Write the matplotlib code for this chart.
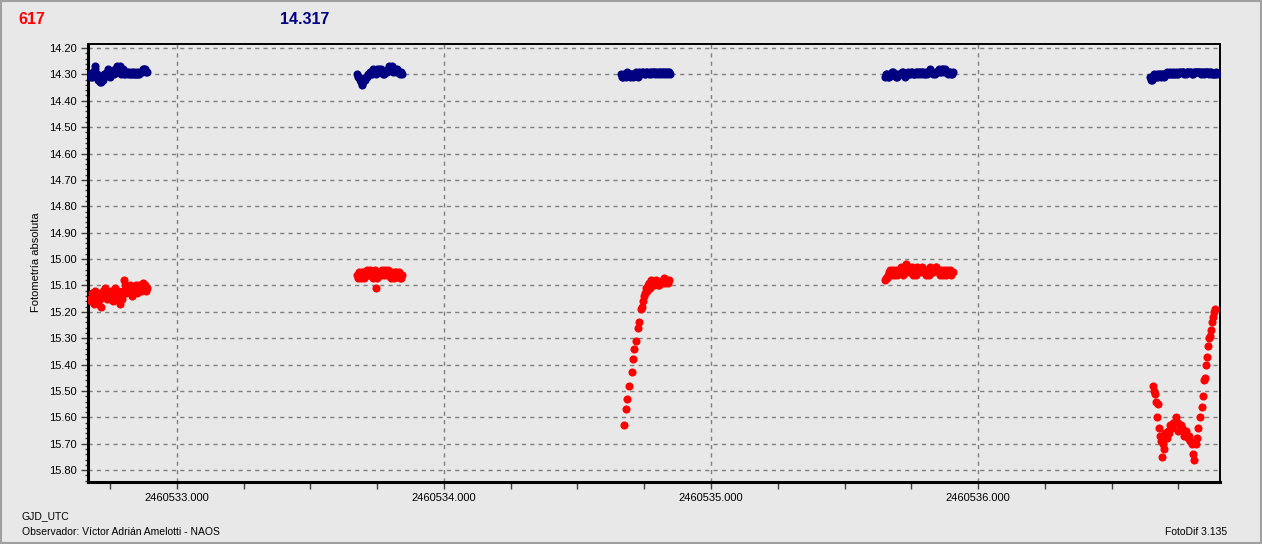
import numpy as np
import matplotlib
matplotlib.use('Agg')
from matplotlib import pyplot as plt
from matplotlib.ticker import MultipleLocator, FuncFormatter
from matplotlib.patches import Rectangle

# --- datos (GJD = T0 + t) ---
T0 = 2460532.0

# noche 1
t1 = [0.674, 0.681, 0.688, 0.695, 0.703, 0.710, 0.717, 0.724, 0.731, 0.738,
      0.745, 0.752, 0.760, 0.767, 0.774, 0.781, 0.788, 0.795, 0.802, 0.809,
      0.817, 0.824, 0.831, 0.838, 0.845, 0.852, 0.859, 0.866, 0.874, 0.881, 0.888]
b1 = [14.30, 14.31, 14.30, 14.27, 14.31, 14.32, 14.33, 14.32, 14.30, 14.29,
      14.30, 14.29, 14.29, 14.28, 14.29, 14.28, 14.27, 14.29, 14.30, 14.29,
      14.30, 14.30, 14.29, 14.30, 14.30, 14.29, 14.30, 14.29, 14.28, 14.28, 14.29]
r1 = [15.15, 15.13, 15.17, 15.12, 15.16, 15.14, 15.18, 15.12, 15.11, 15.15,
      15.13, 15.12, 15.16, 15.11, 15.14, 15.12, 15.17, 15.15, 15.08, 15.13,
      15.12, 15.10, 15.14, 15.12, 15.11, 15.13, 15.10, 15.12, 15.09, 15.10, 15.11]
t1b = [0.677, 0.684, 0.692, 0.699, 0.706, 0.713, 0.720, 0.727, 0.734, 0.741,
       0.749, 0.756, 0.763, 0.770, 0.777, 0.784, 0.791, 0.799, 0.806, 0.813,
       0.820, 0.827, 0.834, 0.841, 0.848, 0.856, 0.863, 0.870, 0.877, 0.884]
b1b = [14.31, 14.29, 14.28, 14.30, 14.32, 14.33, 14.31, 14.30, 14.30, 14.28,
       14.31, 14.29, 14.30, 14.29, 14.27, 14.29, 14.30, 14.28, 14.30, 14.29,
       14.29, 14.30, 14.30, 14.29, 14.30, 14.30, 14.29, 14.29, 14.28, 14.29]
r1b = [15.16, 15.14, 15.15, 15.13, 15.17, 15.15, 15.13, 15.14, 15.12, 15.13,
       15.15, 15.14, 15.13, 15.12, 15.15, 15.14, 15.13, 15.12, 15.10, 15.12,
       15.11, 15.12, 15.13, 15.11, 15.10, 15.12, 15.11, 15.10, 15.11, 15.12]

# noche 2
t2 = [1.674, 1.681, 1.689, 1.696, 1.703, 1.711, 1.718, 1.725, 1.733, 1.740,
      1.747, 1.755, 1.762, 1.769, 1.777, 1.784, 1.791, 1.799, 1.806, 1.813,
      1.821, 1.828, 1.835, 1.843]
b2 = [14.30, 14.31, 14.33, 14.33, 14.32, 14.31, 14.30, 14.30, 14.29, 14.29,
      14.29, 14.28, 14.29, 14.29, 14.30, 14.29, 14.28, 14.28, 14.27, 14.28,
      14.29, 14.29, 14.30, 14.30]
r2 = [15.06, 15.05, 15.07, 15.05, 15.06, 15.04, 15.06, 15.05, 15.07, 15.04,
      15.11, 15.06, 15.05, 15.04, 15.06, 15.05, 15.04, 15.06, 15.05, 15.07,
      15.05, 15.06, 15.07, 15.06]
t2b = [1.678, 1.685, 1.692, 1.700, 1.707, 1.714, 1.722, 1.729, 1.736, 1.744,
       1.751, 1.758, 1.766, 1.773, 1.780, 1.788, 1.795, 1.802, 1.810, 1.817,
       1.824, 1.832, 1.839]
b2b = [14.31, 14.32, 14.34, 14.32, 14.31, 14.30, 14.29, 14.30, 14.28, 14.30,
       14.28, 14.29, 14.28, 14.30, 14.29, 14.29, 14.27, 14.28, 14.29, 14.28,
       14.28, 14.29, 14.29]
r2b = [15.07, 15.06, 15.05, 15.07, 15.05, 15.06, 15.04, 15.06, 15.05, 15.06,
       15.07, 15.05, 15.06, 15.05, 15.04, 15.06, 15.05, 15.07, 15.06, 15.05,
       15.06, 15.05, 15.07]

# noche 3
t3 = [2.663, 2.671, 2.678, 2.686, 2.693, 2.701, 2.709, 2.716, 2.724, 2.731,
      2.739, 2.747, 2.754, 2.762, 2.770, 2.777, 2.785, 2.792, 2.800, 2.808,
      2.815, 2.823, 2.830, 2.838, 2.846]
b3 = [14.30, 14.31, 14.30, 14.29, 14.30, 14.30, 14.31, 14.30, 14.30, 14.29,
      14.30, 14.29, 14.30, 14.29, 14.29, 14.30, 14.29, 14.29, 14.30, 14.29,
      14.29, 14.30, 14.29, 14.29, 14.30]
t3b = [2.667, 2.675, 2.682, 2.690, 2.697, 2.705, 2.713, 2.720, 2.728, 2.735,
       2.743, 2.751, 2.758, 2.766, 2.774, 2.781, 2.789, 2.796, 2.804, 2.812,
       2.819, 2.827, 2.834, 2.842]
b3b = [14.31, 14.30, 14.31, 14.30, 14.31, 14.30, 14.30, 14.29, 14.31, 14.30,
       14.29, 14.30, 14.29, 14.30, 14.29, 14.29, 14.30, 14.29, 14.29, 14.30,
       14.29, 14.29, 14.30, 14.29]
t3r = [2.674, 2.680, 2.684, 2.693, 2.704, 2.708, 2.712, 2.719, 2.727, 2.730,
       2.738, 2.741, 2.745, 2.749, 2.753, 2.756, 2.760, 2.765, 2.768, 2.772,
       2.775, 2.779, 2.785, 2.790, 2.795, 2.801, 2.805, 2.809, 2.815, 2.820,
       2.825, 2.828, 2.835, 2.840, 2.843]
r3 = [15.63, 15.57, 15.53, 15.48, 15.43, 15.38, 15.34, 15.31, 15.26, 15.24,
      15.19, 15.18, 15.16, 15.14, 15.13, 15.11, 15.12, 15.10, 15.09, 15.11,
      15.08, 15.10, 15.10, 15.09, 15.08, 15.10, 15.10, 15.09, 15.09, 15.08,
      15.07, 15.09, 15.08, 15.09, 15.08]

# noche 4
t4 = [3.652, 3.660, 3.667, 3.675, 3.683, 3.690, 3.698, 3.706, 3.714, 3.721,
      3.729, 3.737, 3.744, 3.752, 3.760, 3.767, 3.775, 3.783, 3.791, 3.798,
      3.806, 3.814, 3.821, 3.829, 3.837, 3.844, 3.852, 3.860, 3.868, 3.875,
      3.883, 3.891, 3.898, 3.906]
b4 = [14.31, 14.30, 14.31, 14.30, 14.29, 14.30, 14.31, 14.30, 14.29, 14.30,
      14.30, 14.29, 14.30, 14.29, 14.30, 14.29, 14.30, 14.29, 14.29, 14.30,
      14.29, 14.29, 14.28, 14.29, 14.30, 14.29, 14.28, 14.29, 14.28, 14.28,
      14.29, 14.29, 14.30, 14.29]
r4 = [15.08, 15.07, 15.05, 15.06, 15.04, 15.05, 15.06, 15.04, 15.05, 15.03,
      15.02, 15.04, 15.05, 15.03, 15.04, 15.06, 15.05, 15.04, 15.03, 15.05,
      15.06, 15.04, 15.03, 15.05, 15.04, 15.03, 15.05, 15.04, 15.06, 15.05,
      15.04, 15.05, 15.06, 15.05]
t4b = [3.656, 3.664, 3.671, 3.679, 3.687, 3.694, 3.702, 3.710, 3.718, 3.725,
       3.733, 3.741, 3.748, 3.756, 3.764, 3.771, 3.779, 3.787, 3.795, 3.802,
       3.810, 3.818, 3.825, 3.833, 3.841, 3.848, 3.856, 3.864, 3.872, 3.879,
       3.887, 3.895, 3.902]
b4b = [14.30, 14.31, 14.30, 14.29, 14.30, 14.31, 14.30, 14.30, 14.29, 14.31,
       14.30, 14.30, 14.29, 14.30, 14.30, 14.29, 14.29, 14.30, 14.29, 14.30,
       14.30, 14.29, 14.29, 14.30, 14.29, 14.29, 14.29, 14.28, 14.29, 14.29,
       14.30, 14.29, 14.30]
r4b = [15.07, 15.06, 15.04, 15.05, 15.06, 15.04, 15.05, 15.03, 15.06, 15.04,
       15.05, 15.03, 15.04, 15.06, 15.05, 15.03, 15.04, 15.05, 15.04, 15.04,
       15.05, 15.06, 15.04, 15.05, 15.03, 15.04, 15.06, 15.05, 15.04, 15.06,
       15.05, 15.04, 15.05]

# noche 5
t5 = [4.644, 4.652, 4.659, 4.667, 4.674, 4.682, 4.690, 4.697, 4.705, 4.712,
      4.720, 4.728, 4.735, 4.743, 4.750, 4.758, 4.766, 4.773, 4.781, 4.788,
      4.796, 4.804, 4.811, 4.819, 4.826, 4.834, 4.842, 4.849, 4.857, 4.864,
      4.872, 4.880, 4.887, 4.895]
b5 = [14.31, 14.32, 14.30, 14.31, 14.31, 14.30, 14.30, 14.31, 14.30, 14.30,
      14.29, 14.30, 14.30, 14.29, 14.30, 14.29, 14.29, 14.30, 14.29, 14.29,
      14.29, 14.30, 14.29, 14.29, 14.29, 14.30, 14.29, 14.29, 14.29, 14.30,
      14.29, 14.30, 14.30, 14.30]
t5b = [4.648, 4.655, 4.663, 4.670, 4.678, 4.686, 4.693, 4.701, 4.708, 4.716,
       4.724, 4.731, 4.739, 4.746, 4.754, 4.762, 4.769, 4.777, 4.784, 4.792,
       4.800, 4.807, 4.815, 4.822, 4.830, 4.838, 4.845, 4.853, 4.860, 4.868,
       4.876, 4.883, 4.891]
b5b = [14.32, 14.31, 14.31, 14.30, 14.30, 14.31, 14.30, 14.30, 14.29, 14.30,
       14.30, 14.29, 14.30, 14.30, 14.29, 14.29, 14.29, 14.30, 14.29, 14.29,
       14.30, 14.29, 14.29, 14.29, 14.29, 14.29, 14.30, 14.29, 14.29, 14.29,
       14.30, 14.30, 14.29]
t5r = [4.655, 4.659, 4.663, 4.667, 4.670, 4.674, 4.678, 4.682, 4.685, 4.689,
       4.693, 4.697, 4.700, 4.703, 4.708, 4.712, 4.715, 4.720, 4.724, 4.727,
       4.731, 4.735, 4.742, 4.747, 4.750, 4.757, 4.761, 4.765, 4.770, 4.775,
       4.780, 4.787, 4.791, 4.795, 4.801, 4.805, 4.809, 4.815, 4.820, 4.824,
       4.831, 4.839, 4.843, 4.846, 4.850, 4.854, 4.858, 4.861, 4.865, 4.869,
       4.873, 4.876, 4.880, 4.884, 4.888]
r5 = [15.48, 15.50, 15.51, 15.54, 15.60, 15.55, 15.64, 15.67, 15.69, 15.75,
      15.70, 15.72, 15.66, 15.68, 15.68, 15.65, 15.66, 15.63, 15.64, 15.64,
      15.62, 15.62, 15.60, 15.62, 15.65, 15.64, 15.63, 15.64, 15.67, 15.66,
      15.65, 15.68, 15.67, 15.69, 15.70, 15.74, 15.76, 15.70, 15.68, 15.64,
      15.60, 15.56, 15.52, 15.46, 15.45, 15.40, 15.37, 15.33, 15.30, 15.29,
      15.27, 15.24, 15.22, 15.20, 15.19]

cmp_t = [t1, t1b, t2, t2b, t3, t3b, t4, t4b, t5, t5b]
cmp_m = [b1, b1b, b2, b2b, b3, b3b, b4, b4b, b5, b5b]
var_t = [t1, t1b, t2, t2b, t3r, t4, t4b, t5r]
var_m = [r1, r1b, r2, r2b, r3, r4, r4b, r5]

if __name__ == '__main__':

    bg = '#e8e8e9'
    plt.rcParams['font.family'] = 'Liberation Sans'
    plt.rcParams['font.size'] = 8

    fig = plt.figure(figsize=(12.62, 5.44), dpi=100, facecolor=bg)
    ax = fig.add_axes([88 / 1262, 1 - 482 / 544, 1132 / 1262, 438 / 544])
    ax.set_facecolor(bg)

    # puntos
    for t, m in zip(cmp_t, cmp_m):
        ax.scatter(T0 + np.array(t), m, s=34, color='#000080', linewidths=0, zorder=3)
    for t, m in zip(var_t, var_m):
        ax.scatter(T0 + np.array(t), m, s=34, color='#ff0000', linewidths=0, zorder=3)

    # escalas
    ax.set_xlim(T0 + 0.667, T0 + 4.906)
    ax.set_ylim(15.845, 14.185)
    ax.xaxis.set_major_locator(MultipleLocator(1.0))
    ax.xaxis.set_minor_locator(MultipleLocator(0.25))
    ax.yaxis.set_major_locator(MultipleLocator(0.1))
    ax.yaxis.set_minor_locator(MultipleLocator(0.02))
    ax.xaxis.set_major_formatter(FuncFormatter(lambda v, p: f'{v:.3f}'))
    ax.yaxis.set_major_formatter(FuncFormatter(lambda v, p: f'{v:.2f}'))
    ax.tick_params(axis='both', which='major', length=5, width=1, color='#404040', labelsize=8, pad=3)
    ax.tick_params(axis='x', which='minor', length=5, width=1, color='#404040')
    ax.tick_params(axis='y', which='minor', length=2, width=1, color='#404040')

    ax.grid(True, which='major', color='#808080', linestyle=(0, (3, 3)), linewidth=1)
    ax.set_axisbelow(True)

    for side, lw in [('left', 2.2), ('bottom', 2.2), ('top', 1.4), ('right', 1.4)]:
        ax.spines[side].set_linewidth(lw)
        ax.spines[side].set_color('black')

    # textos
    fig.text(36 / 1262, 1 - 262 / 544, 'Fotometría absoluta', rotation=90,
             ha='center', va='center', fontsize=8)
    fig.text(18 / 1262, 1 - 19 / 544, '617', color='#ff0000', fontsize=11.5,
             fontweight='bold', ha='left', va='center')
    fig.text(280 / 1262, 1 - 19 / 544, '14.317', color='#000080', fontsize=11.5,
             fontweight='bold', ha='left', va='center')
    fig.text(22 / 1262, 1 - 516 / 544, 'GJD_UTC', fontsize=7.5, ha='left', va='center')
    fig.text(22 / 1262, 1 - 532 / 544, 'Observador: Víctor Adrián Amelotti - NAOS',
             fontsize=7.5, ha='left', va='center')
    fig.text(1227 / 1262, 1 - 532 / 544, 'FotoDif 3.135', fontsize=7.5,
             ha='right', va='center')

    # marco exterior
    fig.patches.append(Rectangle((0.0005, 0.001), 0.999, 0.998, transform=fig.transFigure,
                                 fill=False, edgecolor='#a0a0a0', linewidth=1.5))

    fig.savefig('out.png', dpi=100, facecolor=bg)
    plt.close()
